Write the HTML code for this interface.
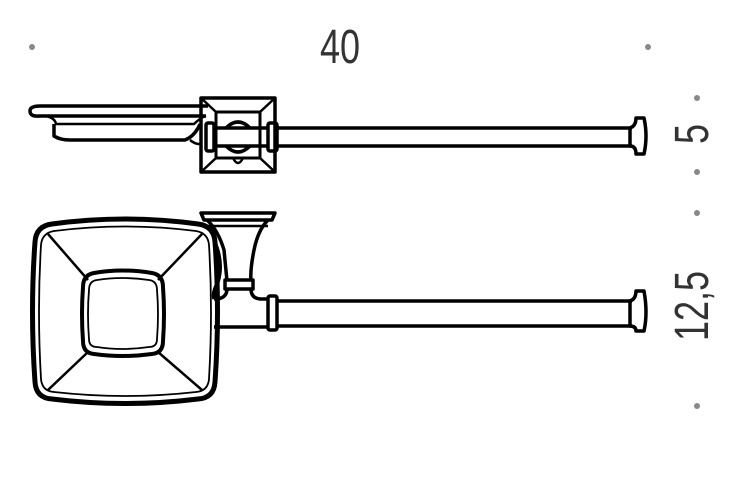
<!DOCTYPE html>
<html><head><meta charset="utf-8"><style>
html,body{margin:0;padding:0;background:#fff;width:756px;height:499px;overflow:hidden}
</style></head><body>
<svg width="756" height="499" viewBox="0 0 756 499" xmlns="http://www.w3.org/2000/svg">
<g fill="#888">
<circle cx="32" cy="47" r="3"/><circle cx="648" cy="47" r="3"/>
<circle cx="697" cy="98" r="3"/><circle cx="697" cy="172" r="3"/>
<circle cx="697" cy="213" r="3"/><circle cx="697" cy="406" r="3"/>
</g>
<g fill="#333" font-family="'Liberation Sans Narrow','Liberation Sans',sans-serif" font-size="48">
<text transform="translate(340,63) scale(0.75,1)" text-anchor="middle">40</text>
<text transform="translate(708,134) rotate(-90) scale(0.75,1)" text-anchor="middle">5</text>
<text transform="translate(708,306) rotate(-90) scale(0.75,1)" text-anchor="middle">12,5</text>
</g>
<g fill="none" stroke="#000" stroke-linejoin="round">
<!-- top view -->
<rect x="201" y="98" width="74" height="74" stroke-width="3.5"/>
<rect x="216" y="112" width="44" height="46" stroke-width="3"/>
<path d="M201 98L216 112M275 98L260 112M201 172L216 158M275 172L260 158" stroke-width="2.5"/>
<path d="M226 128 Q238 116 250 128 M226 146 Q238 158 250 146" stroke-width="3.5"/>
<path d="M233 158 Q238 168 243 158" stroke-width="2.5"/>
<path d="M278 128 H632 M278 146 H632" stroke-width="3.5"/>
<rect x="206" y="123" width="8" height="28" rx="2" stroke-width="3.5"/>
<rect x="268" y="123" width="9" height="28" rx="2" stroke-width="3.5"/>
<path d="M214 128 H268 M214 146 H268" stroke-width="3.5"/>
<path d="M630 128 Q636 126 636 118 L644 118 Q648 136 644 154 L636 154 Q636 146 630 146 Z" stroke-width="3.5"/>
<!-- soap dish side -->
<path d="M40 106 H208 M38 116 H206 M40 106 Q30 106 30 111 Q30 117 40 116" stroke-width="3.5"/>
<path d="M46 116 Q55 118 56 124 H194 Q200 118 206 116" stroke-width="2.5"/>
<path d="M54 124 V136 Q60 140 70 140 H185 Q195 136 200 124" stroke-width="3.5"/>
<path d="M190 140 Q196 145 202 144" stroke-width="2.5"/>
<!-- front view -->
<path d="M52 224 Q125 214 198 224 Q214 226 215 242 Q220 311 215 382 Q214 398 198 399 Q125 408 52 399 Q36 398 35 382 Q30 311 35 242 Q36 226 52 224 Z" stroke-width="5"/>
<path d="M54 231 Q125 222 196 231 Q208 233 209 245 Q213 311 209 379 Q208 391 196 392 Q125 400 54 392 Q42 391 41 379 Q37 311 41 245 Q42 233 54 231 Z" stroke-width="1.8"/>
<path d="M48 234 L88 280 M202 234 L158 280 M48 390 L88 352 M202 390 L158 352" stroke-width="2.5"/>
<path d="M94 273 Q122 268 152 273 Q163 275 163 287 Q165 314 163 341 Q163 353 152 354 Q122 358 94 354 Q83 353 83 341 Q81 314 83 287 Q83 275 94 273 Z" stroke-width="4"/>
<path d="M97 280 Q122 276 149 280 Q157 281 157 290 Q159 314 157 339 Q157 347 149 347 Q122 351 97 347 Q89 347 89 339 Q87 314 89 290 Q89 281 97 280 Z" stroke-width="1.8"/>
<!-- bracket -->
<path d="M201 213 H275 L272 220 H204 Z" stroke-width="3.5"/>
<path d="M207 220 Q218 230 224 250 Q226 270 227 281 M268 220 Q258 230 254 250 Q250 270 251 281" stroke-width="3.5"/>
<path d="M208 226 H268" stroke-width="2.5"/>
<rect x="225" y="280" width="28" height="9" stroke-width="3.5"/>
<path d="M227 289 Q227 297 218 299 H214 M251 289 Q251 298 260 299 H268" stroke-width="3.5"/>
<path d="M214 327 H268" stroke-width="3.5"/>
<path d="M214 240 Q224 262 218 282 Q212 292 214 299" stroke-width="3.5"/>
<rect x="268" y="296" width="9" height="34" rx="2" stroke-width="3.5"/>
<path d="M277 301 H632 M277 326 H632" stroke-width="3.5"/>
<path d="M630 301 Q636 299 636 291 L644 291 Q648 313 644 331 L636 331 Q636 326 630 326 Z" stroke-width="3.5"/>
</g>
</svg>
</body></html>
